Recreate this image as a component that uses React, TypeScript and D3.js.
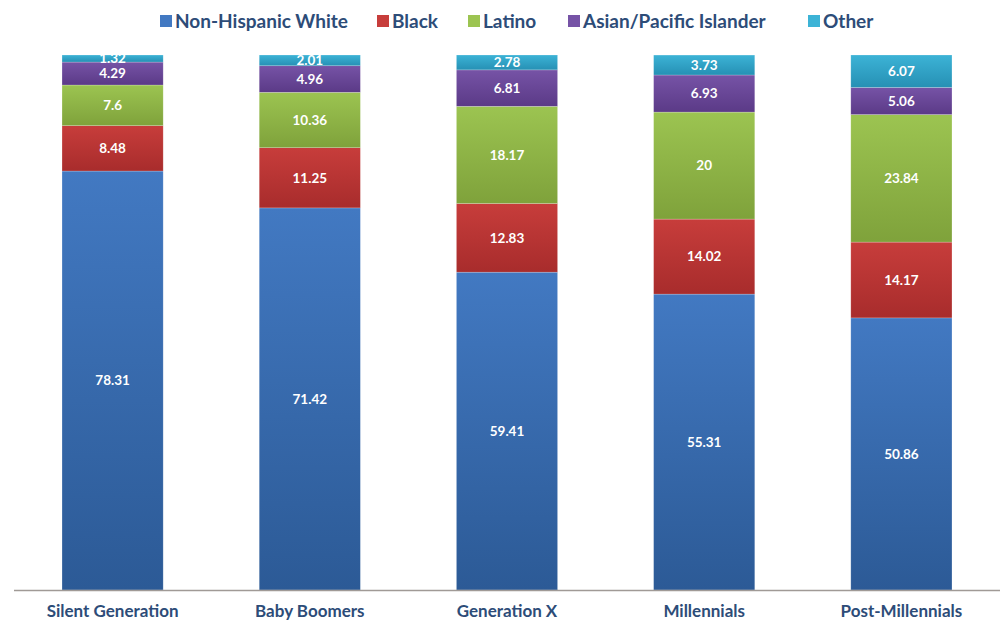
import React, { useEffect, useRef } from "react";
import * as d3 from "d3";

const categories = ["Silent Generation", "Baby Boomers", "Generation X", "Millennials", "Post-Millennials"];
const seriesNames = ["Non-Hispanic White", "Black", "Latino", "Asian/Pacific Islander", "Other"];
const white = [78.31, 71.42, 59.41, 55.31, 50.86];
const black = [8.48, 11.25, 12.83, 14.02, 14.17];
const latino = [7.6, 10.36, 18.17, 20, 23.84];
const asian = [4.29, 4.96, 6.81, 6.93, 5.06];
const other = [1.32, 2.01, 2.78, 3.73, 6.07];

const colorsTop = ["#4279c2", "#c73d3b", "#9cc451", "#7653a6", "#3cb3d6"];
const colorsBottom = ["#2c5a96", "#a82c2c", "#7fa23b", "#5b3a87", "#2690b4"];
const legendX = [160, 377, 468, 568, 808];

const W = 1004, H = 623;

export default function App() {
  const ref = useRef<SVGSVGElement>(null);
  useEffect(() => {
    const svg = d3.select(ref.current!);
    svg.selectAll("*").remove();
    const seriesVals = [white, black, latino, asian, other];
    const rows = categories.map((c, i) => {
      const r: any = { cat: c };
      seriesNames.forEach((s, k) => (r[s] = seriesVals[k][i]));
      return r;
    });
    const stack = d3.stack<any>().keys(seriesNames)(rows);
    const x = d3.scaleBand().domain(categories).range([14, 1000]).paddingInner(0.487).paddingOuter(0.2435);
    const y = d3.scaleLinear().domain([0, 100]).range([590, 55]);

    const defs = svg.append("defs");
    seriesNames.forEach((s, k) => {
      const g = defs.append("linearGradient").attr("id", "g" + k).attr("x1", 0).attr("y1", 0).attr("x2", 0).attr("y2", 1);
      g.append("stop").attr("offset", "0%").attr("stop-color", colorsTop[k]);
      g.append("stop").attr("offset", "100%").attr("stop-color", colorsBottom[k]);
    });

    const font = "Lato, 'Open Sans', sans-serif";

    stack.forEach((layer, k) => {
      const g = svg.append("g");
      g.selectAll("rect").data(layer).enter().append("rect")
        .attr("x", (d: any) => x(d.data.cat)!)
        .attr("width", x.bandwidth())
        .attr("y", (d: any) => y(d[1]))
        .attr("height", (d: any) => y(d[0]) - y(d[1]))
        .attr("fill", `url(#g${k})`)
        .attr("stroke", "rgba(255,255,255,0.35)")
        .attr("stroke-width", 0.6);
      g.selectAll("text").data(layer).enter().append("text")
        .attr("x", (d: any) => x(d.data.cat)! + x.bandwidth() / 2)
        .attr("y", (d: any) => (y(d[0]) + y(d[1])) / 2)
        .attr("dy", "0.35em")
        .attr("text-anchor", "middle")
        .attr("fill", "#ffffff")
        .attr("font-family", font)
        .attr("font-weight", 700)
        .attr("font-size", 13.5)
        .text((d: any) => String(d.data[layer.key]));
    });

    svg.append("line").attr("x1", 14).attr("x2", 1000).attr("y1", 590.5).attr("y2", 590.5)
      .attr("stroke", "#a09a96").attr("stroke-width", 1.3);

    svg.append("g").selectAll("text").data(categories).enter().append("text")
      .attr("x", (d) => x(d)! + x.bandwidth() / 2)
      .attr("y", 617)
      .attr("text-anchor", "middle")
      .attr("fill", "#2d4c78")
      .attr("font-family", font)
      .attr("font-weight", 700)
      .attr("font-size", 17)
      .text((d) => d);

    const lg = svg.append("g");
    seriesNames.forEach((s, k) => {
      lg.append("rect").attr("x", legendX[k]).attr("y", 15).attr("width", 12).attr("height", 12).attr("fill", colorsTop[k]);
      lg.append("text").attr("x", legendX[k] + 15).attr("y", 28)
        .attr("fill", "#2d4c78").attr("font-family", font).attr("font-weight", 700).attr("font-size", 19)
        .text(s);
    });
  }, []);
  return <svg ref={ref} width={W} height={H} style={{ display: "block", position: "absolute", left: 0, top: 0, background: "#fff" }} />;
}
